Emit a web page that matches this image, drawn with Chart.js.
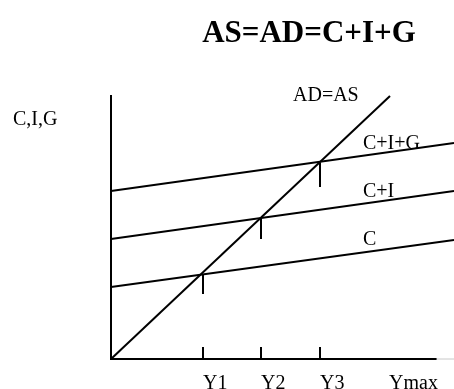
<!DOCTYPE html>
<html><head><meta charset="utf-8">
<script src="https://cdn.jsdelivr.net/npm/chart.js@4/dist/chart.umd.min.js"></script>
<style>html,body{margin:0;padding:0;background:#fff;overflow:hidden}</style>
</head><body>
<canvas id="c" width="454" height="389"></canvas>
<script>
// ---- data (arbitrary income units, origin at the axes' corner) ----
const chartTitle = "AS=AD=C+I+G";
const yAxisTitle = "C,I,G";
const xTickValues = [92, 150, 209, 278];
const xTickLabels = ["Y1", "Y2", "Y3", "Ymax"];
const adAsX = [0, 279];
const adAsY = [0, 263];
const incomeX = [0, 343];
const cValues = [72, 119];
const ciValues = [120, 168];
const cigValues = [168, 216];
const dropX = [92, 150, 209];
const dropTop = [85, 141, 196];
const dropBottom = [65, 120, 172];
const axisTickLen = [12, 12, 12];
const lineLabels = ["AD=AS", "C+I+G", "C+I", "C"];
const xAxisEnd = 325;

const pts = (xs, ys) => xs.map((v, i) => ({x: v, y: ys[i]}));
const base = {showLine: true, pointRadius: 0, borderColor: '#000', borderWidth: 2, clip: false, tension: 0};

const datasets = [
  {...base, label: lineLabels[0], data: pts(adAsX, adAsY)},
  {...base, label: lineLabels[1], data: pts(incomeX, cigValues)},
  {...base, label: lineLabels[2], data: pts(incomeX, ciValues)},
  {...base, label: lineLabels[3], data: pts(incomeX, cValues)},
  {...base, label: 'axis extension', borderColor: '#c8c8c8', borderWidth: 1, data: [{x: xAxisEnd, y: 0}, {x: incomeX[1], y: 0}]}
];
dropX.forEach((xv, i) => {
  datasets.push({...base, label: 'drop' + i, data: [{x: xv, y: dropTop[i]}, {x: xv, y: dropBottom[i]}]});
  datasets.push({...base, label: 'tick' + i, data: [{x: xv, y: 0}, {x: xv, y: axisTickLen[i]}]});
});

const serif = '"Liberation Serif", "Times New Roman", serif';
const annot = {
  id: 'annot',
  afterDraw(chart) {
    const {ctx, scales: {x, y}} = chart;
    ctx.save();
    ctx.fillStyle = '#000';
    ctx.textBaseline = 'alphabetic';
    ctx.textAlign = 'center';
    ctx.font = 'bold 31px ' + serif;
    ctx.fillText(chartTitle, 309, 42);
    ctx.textAlign = 'left';
    ctx.font = '20px ' + serif;
    ctx.fillText(yAxisTitle, 13, 125);
    const anchors = [[182, 258], [252, 210], [252, 162], [252, 114]];
    lineLabels.forEach((t, i) => {
      ctx.fillText(t, x.getPixelForValue(anchors[i][0]), y.getPixelForValue(anchors[i][1]));
    });
    ctx.restore();
  }
};

new Chart(document.getElementById('c'), {
  type: 'scatter',
  data: {datasets},
  options: {
    responsive: false,
    animation: false,
    devicePixelRatio: 1,
    layout: {padding: {top: 96, right: 18, left: 0, bottom: 0}},
    plugins: {legend: {display: false}, tooltip: {enabled: false}, title: {display: false}},
    scales: {
      x: {
        type: 'linear', min: 0, max: xAxisEnd,
        afterFit(s) { s.height = 30; },
        afterBuildTicks(s) { s.ticks = xTickValues.map(v => ({value: v})); },
        ticks: {
          callback: (v, i) => xTickLabels[i],
          align: 'start', autoSkip: false, maxRotation: 0, padding: 5,
          color: '#000', font: {family: serif, size: 20}
        },
        grid: {display: false},
        border: {display: true, color: '#000', width: 2}
      },
      y: {
        type: 'linear', min: 0, max: 263,
        afterFit(s) { s.width = 111; },
        ticks: {display: false},
        grid: {display: false},
        border: {display: true, color: '#000', width: 2}
      }
    }
  },
  plugins: [annot]
});
</script>
</body></html>
